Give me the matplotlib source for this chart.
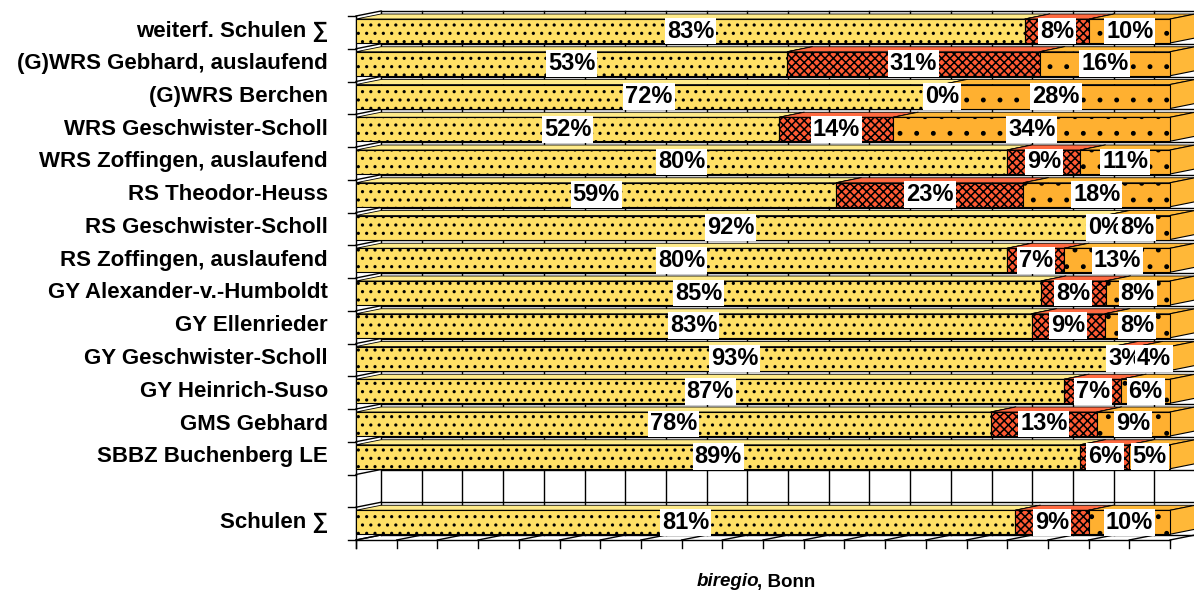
import matplotlib
matplotlib.use("Agg")
import matplotlib.pyplot as plt
from matplotlib.patches import Polygon
import numpy as np

# ---------------- data ----------------
categories = [
    "weiterf. Schulen \u2211",
    "(G)WRS Gebhard, auslaufend",
    "(G)WRS Berchen",
    "WRS Geschwister-Scholl",
    "WRS Zoffingen, auslaufend",
    "RS Theodor-Heuss",
    "RS Geschwister-Scholl",
    "RS Zoffingen, auslaufend",
    "GY Alexander-v.-Humboldt",
    "GY Ellenrieder",
    "GY Geschwister-Scholl",
    "GY Heinrich-Suso",
    "GMS Gebhard",
    "SBBZ Buchenberg LE",
    "",
    "Schulen \u2211",
]
yellow_vals = [83, 53, 72, 52, 80, 59, 92, 80, 85, 83, 93, 87, 78, 89, None, 81]
red_vals    = [8, 31, 0, 14, 9, 23, 0, 7, 8, 9, 3, 7, 13, 6, None, 9]
orange_vals = [10, 16, 28, 34, 11, 18, 8, 13, 8, 8, 4, 6, 9, 5, None, 10]

series = [yellow_vals, red_vals, orange_vals]
front_colors = ["#FFE066", "#FF5A33", "#FFB030"]
top_colors = ["#FFEB8A", "#FF6A40", "#FFB838"]
hatches = ["..", "xxxx", "."]

FAM = ["Liberation Sans", "DejaVu Sans"]

# ---------------- layout ----------------
W, H = 1194, 594
fig = plt.figure(figsize=(W / 100, H / 100), dpi=100)
plt.rcParams["hatch.linewidth"] = 1.1

n = len(categories)
pitch_px = 32.75
left_px, right_px = 356, 1170
top_px = 16
bottom_px = top_px + n * pitch_px
ax = fig.add_axes([left_px / W, 1 - bottom_px / H, (right_px - left_px) / W, (bottom_px - top_px) / H])
ax.set_xlim(0, 100)
ax.set_ylim(n - 0.5, -0.5)
ax.axis("off")

px_x = 100 / (right_px - left_px)      # data units per pixel (x)
px_y = 1 / pitch_px                    # data units per pixel (y)
DX = 25 * px_x
DY = 5 * px_y
bar_off = 3 * px_y
bar_h = 24 * px_y

lw = 1.0
ytop = -0.5
ybot = n - 0.5

# back wall
ax.add_patch(Polygon([(DX, ytop - DY), (100 + DX, ytop - DY), (100 + DX, ybot - DY), (DX, ybot - DY)],
                     closed=True, facecolor="white", edgecolor="none", zorder=0, clip_on=False))
for g in np.arange(0, 101, 5):
    ax.plot([g + DX, g + DX], [ytop - DY, ybot - DY], color="black", lw=lw, zorder=1, clip_on=False)
for b in np.arange(ytop, ybot + 0.01, 1):
    ax.plot([DX, 100 + DX], [b - DY, b - DY], color="black", lw=lw, zorder=1, clip_on=False)
# floor
for g in np.arange(0, 101, 5):
    ax.plot([g, g + DX], [ybot, ybot - DY], color="black", lw=lw, zorder=1, clip_on=False)
    ax.plot([g, g], [ybot, ybot + 8 * px_y], color="black", lw=lw, zorder=1, clip_on=False)
ax.plot([0, 100], [ybot, ybot], color="black", lw=lw, zorder=1, clip_on=False)
# left wall
ax.plot([0, 0], [ytop, ybot + 8 * px_y], color="black", lw=lw, zorder=1, clip_on=False)
for b in np.arange(ytop, ybot + 0.01, 1):
    ax.plot([0, DX], [b, b - DY], color="black", lw=lw, zorder=1, clip_on=False)
    ax.plot([-8 * px_x, 0], [b, b], color="black", lw=lw, zorder=1, clip_on=False)

# bars
for i, cat in enumerate(categories):
    if yellow_vals[i] is None:
        continue
    vals = [s[i] for s in series]
    tot = sum(vals)
    yt = i - 0.5 + bar_off
    yb = yt + bar_h
    x0 = 0.0
    for k, v in enumerate(vals):
        w = 100 * v / tot
        x1 = x0 + w
        if w > 0:
            front = Polygon([(x0, yt), (x1, yt), (x1, yb), (x0, yb)], closed=True,
                            facecolor=front_colors[k], edgecolor="black", hatch=hatches[k],
                            lw=0.8, zorder=3, clip_on=False)
            top = Polygon([(x0, yt), (x1, yt), (x1 + DX, yt - DY), (x0 + DX, yt - DY)], closed=True,
                          facecolor=top_colors[k], edgecolor="black", lw=0.6, zorder=3, clip_on=False)
            side = Polygon([(x1, yt), (x1 + DX, yt - DY), (x1 + DX, yb - DY), (x1, yb)], closed=True,
                           facecolor=top_colors[k], edgecolor="black", lw=0.8, zorder=3, clip_on=False)
            ax.add_patch(top)
            ax.add_patch(side)
            ax.add_patch(front)
        x0 = x1
    # value labels
    x0 = 0.0
    for k, v in enumerate(vals):
        w = 100 * v / tot
        ax.text(x0 + w / 2, (yt + yb) / 2, f"{v}%", ha="center", va="center",
                fontsize=17, fontweight="bold", family=FAM,
                color="black", zorder=10, clip_on=False,
                bbox=dict(boxstyle="square,pad=0.08", facecolor="white", edgecolor="none"))
        x0 += w
    # category labels
    ax.text(-28 * px_x, (yt + yb) / 2, cat, ha="right", va="center", fontsize=16,
            fontweight="bold", family=FAM, clip_on=False)

# source text (axis title)
t1 = fig.text(697 / W, 1 - 582 / H, "biregio", ha="left", va="center", fontsize=13.5,
              fontweight="bold", style="italic", family=FAM)
fig.canvas.draw()
bb = t1.get_window_extent()
fig.text((bb.x1 - 3) / W, 1 - 582 / H, ", Bonn", ha="left", va="center", fontsize=13.5,
         fontweight="bold", family=FAM)

fig.savefig("out.png", dpi=100)
